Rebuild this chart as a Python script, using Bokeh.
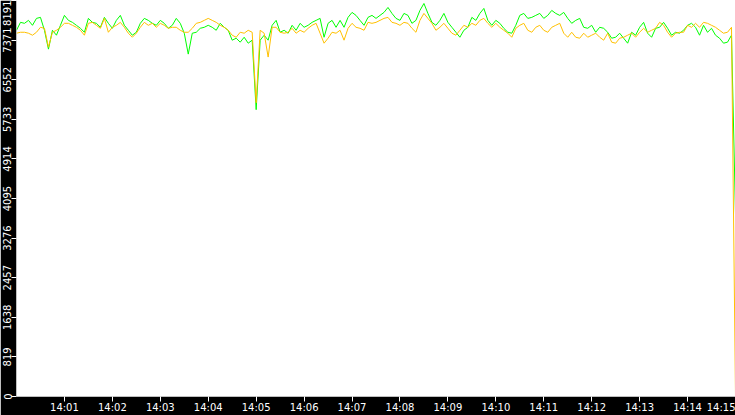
import pandas as pd
from bokeh.plotting import figure
from bokeh.models import FixedTicker, Range1d, DatetimeTickFormatter
from bokeh.embed import file_html
from bokeh.resources import INLINE

# ---- data ----
start_time = "2024-01-01 14:00:00"
sample_step = "5s"

green_values = [
    7575, 7739, 7719, 7780, 7678, 7821, 7842, 7575, 7185, 7575,
    7473, 7678, 7883, 7780, 7739, 7678, 7616, 7534, 7821, 7739,
    7719, 7637, 7842, 7719, 7616, 7780, 7883, 7678, 7575, 7473,
    7534, 7719, 7821, 7780, 7719, 7678, 7780, 7719, 7616, 7678,
    7821, 7719, 7514, 7082, 7514, 7534, 7616, 7637, 7678, 7637,
    7575, 7719, 7637, 7575, 7370, 7411, 7329, 7431, 7308, 7370,
    5933,
    7370, 7473, 7370, 7678, 7780, 7534, 7575, 7514, 7678, 7575,
    7719, 7637, 7678, 7739, 7780, 7821, 7431, 7719, 7780, 7637,
    7780, 7637, 7842, 7945, 7883, 7780, 7678, 7842, 7883, 7821,
    7883, 7945, 8047, 7924, 7821, 7780, 7924, 7883, 7719, 7780,
    7986, 8129, 7924, 7739, 7678, 7780, 7924, 7739, 7637, 7534,
    7431, 7575, 7637, 7842, 7780, 7924, 8027, 7780, 7678,
    7780, 7719, 7616, 7534, 7514, 7678, 7883, 7924, 7821, 7842,
    7883, 7924, 7821, 7883, 7986, 7924, 7883, 7945, 7821, 7719,
    7780, 7821, 7637, 7616, 7678, 7534, 7637, 7616, 7534, 7411,
    7431, 7514, 7411, 7308, 7534, 7473, 7637, 7739, 7514, 7431,
    7616, 7637, 7739, 7616, 7473, 7534, 7514, 7575, 7678, 7719,
    7637, 7473, 7678, 7534, 7616, 7473, 7411, 7308, 7329, 7473,
    3760,
]

orange_values = [
    7514, 7534, 7534, 7514, 7473, 7534, 7637, 7616, 7226, 7534,
    7575, 7637, 7719, 7719, 7678, 7637, 7575, 7473, 7719, 7739,
    7678, 7616, 7821, 7534, 7637, 7678, 7739, 7637, 7514, 7431,
    7514, 7637, 7739, 7678, 7719, 7637, 7719, 7678, 7616, 7637,
    7637, 7575, 7534, 7534, 7616, 7719, 7739, 7780, 7821, 7780,
    7739, 7678, 7637, 7575, 7473, 7431, 7534, 7514, 7575, 7534,
    6076,
    7575, 7514, 7021, 7637, 7637, 7534, 7514, 7534, 7616, 7514,
    7575, 7534, 7616, 7678, 7719, 7514, 7308, 7411, 7534, 7514,
    7575, 7370, 7616, 7719, 7637, 7616, 7575, 7739, 7719, 7739,
    7780, 7821, 7842, 7739, 7719, 7678, 7739, 7719, 7616, 7534,
    7780, 7924, 7821, 7719, 7575, 7637, 7719, 7616, 7514, 7473,
    7575, 7678, 7637, 7719, 7678, 7780, 7821, 7719, 7637,
    7719, 7637, 7575, 7514, 7431, 7616, 7678, 7719, 7575, 7534,
    7637, 7678, 7575, 7534, 7637, 7678, 7719, 7514, 7431, 7534,
    7431, 7411, 7514, 7431, 7473, 7514, 7431, 7370, 7514, 7329,
    7308, 7411, 7431, 7473, 7514, 7431, 7534, 7616, 7534, 7575,
    7616, 7739, 7678, 7534, 7431, 7514, 7534, 7534, 7678, 7637,
    7719, 7637, 7739, 7719, 7678, 7637, 7575, 7514, 7534, 7637,
    0,
]

y_ticks = [0, 819, 1638, 2457, 3276, 4095, 4914, 5733, 6552, 7371, 8191]
x_tick_labels = ["14:01", "14:02", "14:03", "14:04", "14:05", "14:06", "14:07",
                 "14:08", "14:09", "14:10", "14:11", "14:12", "14:13", "14:14", "14:15"]
x_start, x_end = "2024-01-01 14:00:00", "2024-01-01 14:15:00"

GREEN = "#00FF00"
ORANGE = "#FFC000"

# ---- build ----
times = pd.date_range(start_time, periods=len(green_values), freq=sample_step)
tick_times = [pd.Timestamp("2024-01-01 " + t + ":00") for t in x_tick_labels]
tick_ms = [t.value // 10**6 for t in tick_times]

p = figure(width=735, height=415, x_axis_type="datetime",
           output_backend="svg", toolbar_location=None,
           min_border_left=15, min_border_right=0,
           min_border_top=0, min_border_bottom=16)
p.x_range = Range1d(pd.Timestamp(x_start), pd.Timestamp(x_end))
p.y_range = Range1d(0, 8191)

p.line(times, green_values, line_color=GREEN, line_width=1)
p.line(times, orange_values, line_color=ORANGE, line_width=1)

p.background_fill_color = "white"
p.border_fill_color = "black"
p.outline_line_color = None
p.xgrid.visible = False
p.ygrid.visible = False

xa = p.xaxis[0]
xa.ticker = FixedTicker(ticks=tick_ms)
xa.formatter = DatetimeTickFormatter(
    seconds="%H:%M", minsec="%H:%M", minutes="%H:%M", hourmin="%H:%M",
    hours="%H:%M", days="%H:%M", months="%H:%M", years="%H:%M")
xa.major_label_overrides = {ms: lab for ms, lab in zip(tick_ms, x_tick_labels)}

ya = p.yaxis[0]
ya.ticker = FixedTicker(ticks=y_ticks)
ya.major_label_orientation = "vertical"
ya.major_label_text_align = "right"

for ax in (xa, ya):
    ax.axis_line_color = None
    ax.major_tick_line_color = "white"
    ax.major_tick_in = 0
    ax.major_tick_out = 5
    ax.minor_tick_line_color = None
    ax.major_label_text_color = "white"
    ax.major_label_text_font = "DejaVu Sans"
    ax.major_label_text_font_size = "10px"
    ax.major_label_standoff = 0

open("out.html", "w").write(file_html(p, INLINE))
